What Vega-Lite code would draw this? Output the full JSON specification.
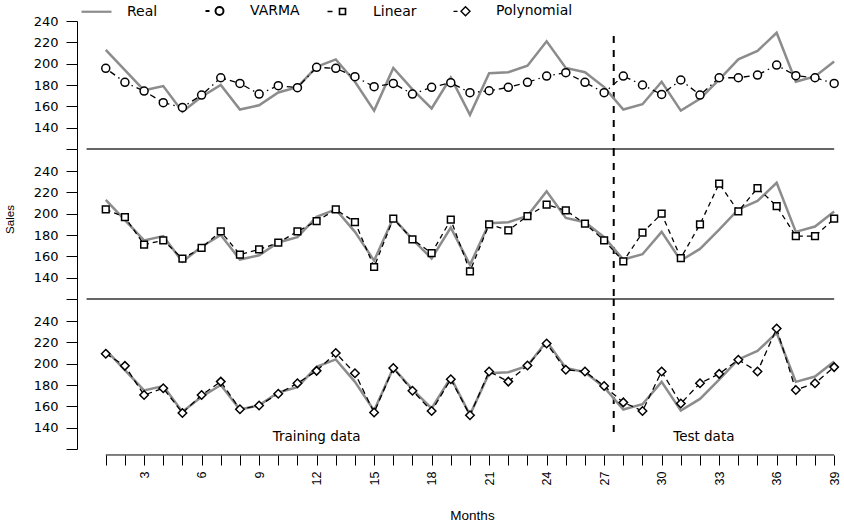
{
  "$schema": "https://vega.github.io/schema/vega-lite/v6.json",
  "padding": {"left": 4, "top": 0, "right": 0, "bottom": 2},
  "bounds": "flush",
  "spacing": 0,
  "config": {
    "view": {"stroke": null},
    "font": "Liberation Sans",
    "axis": {"grid": false, "domainColor": "black", "tickColor": "black", "labelColor": "black", "titleColor": "black", "domainWidth": 1, "tickWidth": 1, "labelOverlap": false, "labelBound": false, "labelFlush": false}
  },
  "datasets": {
    "sales": [
      {"month": 1, "real": 213, "varma": 195.6, "linear": 204, "poly": 209.4},
      {"month": 2, "real": 194, "varma": 182.5, "linear": 196.8, "poly": 198},
      {"month": 3, "real": 175, "varma": 174.3, "linear": 171, "poly": 170.6},
      {"month": 4, "real": 179, "varma": 163.4, "linear": 175, "poly": 177},
      {"month": 5, "real": 155, "varma": 159, "linear": 157.8, "poly": 153.8},
      {"month": 6, "real": 169, "varma": 170.6, "linear": 168, "poly": 170.6},
      {"month": 7, "real": 180, "varma": 186.8, "linear": 183.4, "poly": 183.2},
      {"month": 8, "real": 157, "varma": 181.5, "linear": 161.6, "poly": 157.3},
      {"month": 9, "real": 161, "varma": 171.5, "linear": 166.5, "poly": 160.8},
      {"month": 10, "real": 173, "varma": 179.4, "linear": 172.8, "poly": 171.8},
      {"month": 11, "real": 178, "varma": 177.5, "linear": 183.4, "poly": 181.7},
      {"month": 12, "real": 197, "varma": 196.6, "linear": 193, "poly": 193.3},
      {"month": 13, "real": 204, "varma": 195.6, "linear": 204, "poly": 210},
      {"month": 14, "real": 183, "varma": 187.8, "linear": 192.2, "poly": 191.1},
      {"month": 15, "real": 156, "varma": 178.4, "linear": 150, "poly": 154.2},
      {"month": 16, "real": 196, "varma": 181.5, "linear": 195.3, "poly": 195.9},
      {"month": 17, "real": 176, "varma": 171.5, "linear": 176, "poly": 174.7},
      {"month": 18, "real": 158, "varma": 177.8, "linear": 163, "poly": 155.7},
      {"month": 19, "real": 187, "varma": 182.2, "linear": 194.4, "poly": 185.4},
      {"month": 20, "real": 152, "varma": 172.8, "linear": 146, "poly": 151.6},
      {"month": 21, "real": 191, "varma": 174.6, "linear": 190, "poly": 192.7},
      {"month": 22, "real": 192, "varma": 177.8, "linear": 184.4, "poly": 183.2},
      {"month": 23, "real": 198, "varma": 182.5, "linear": 197.8, "poly": 198.3},
      {"month": 24, "real": 221, "varma": 188.4, "linear": 208.5, "poly": 218.9},
      {"month": 25, "real": 196, "varma": 191.5, "linear": 203.1, "poly": 194.3},
      {"month": 26, "real": 192, "varma": 182.5, "linear": 190.7, "poly": 192.7},
      {"month": 27, "real": 178, "varma": 172.8, "linear": 175, "poly": 179.1},
      {"month": 28, "real": 157, "varma": 188.4, "linear": 155.3, "poly": 163.7},
      {"month": 29, "real": 162, "varma": 180, "linear": 182.2, "poly": 155.7},
      {"month": 30, "real": 183, "varma": 171.2, "linear": 200, "poly": 192.7},
      {"month": 31, "real": 156, "varma": 184.7, "linear": 158.4, "poly": 162.7},
      {"month": 32, "real": 167, "varma": 170.6, "linear": 190, "poly": 181.7},
      {"month": 33, "real": 185, "varma": 186.8, "linear": 228.2, "poly": 190.5},
      {"month": 34, "real": 204, "varma": 186.8, "linear": 202.2, "poly": 203.7},
      {"month": 35, "real": 212, "varma": 189.3, "linear": 224, "poly": 192.7},
      {"month": 36, "real": 229, "varma": 198.7, "linear": 207.2, "poly": 233},
      {"month": 37, "real": 183, "varma": 188.7, "linear": 179, "poly": 175.3},
      {"month": 38, "real": 188, "varma": 186.8, "linear": 179, "poly": 181.7},
      {"month": 39, "real": 202, "varma": 181.5, "linear": 195.3, "poly": 196.8}
    ]
  },
  "vconcat": [
    {
      "width": 761,
      "height": 128,
      "data": {"name": "sales"},
      "layer": [
        {
          "data": {"values": [{}]},
          "mark": {"type": "rule", "color": "#333333", "strokeWidth": 1.5},
          "encoding": {
            "x": {"datum": 0, "type": "quantitative", "scale": {"domain": [-0.5, 39.2], "nice": false, "zero": false}, "axis": null},
            "x2": {"datum": 39},
            "y": {"datum": 120, "type": "quantitative", "scale": {"domain": [120, 240], "nice": false, "zero": false},
                  "axis": {"title": null, "values": [120, 140, 160, 180, 200, 220, 240], "tickCount": 100, "format": "d", "labelExpr": "datum.value == 120 ? '' : datum.label", "labelOverlap": false, "tickSize": 11, "labelPadding": 8, "labelFont": "DejaVu Sans", "labelFontSize": 13}}
          }
        },
        {
          "data": {"values": [{}]},
          "mark": {"type": "rule", "color": "black", "strokeWidth": 2, "strokeDash": [7, 7]},
          "encoding": {
            "x": {"datum": 27.5, "type": "quantitative", "scale": {"domain": [-0.5, 39.2], "nice": false, "zero": false}, "axis": null},
            "y": {"datum": 226, "type": "quantitative", "scale": {"domain": [120, 240], "nice": false, "zero": false}},
            "y2": {"datum": 120}
          }
        },
        {
          "mark": {"type": "line", "color": "#8c8c8c", "strokeWidth": 2.5},
          "encoding": {
            "x": {"field": "month", "type": "quantitative", "scale": {"domain": [-0.5, 39.2], "nice": false, "zero": false}, "axis": null},
            "y": {"field": "real", "type": "quantitative", "scale": {"domain": [120, 240], "nice": false, "zero": false}}
          }
        },
        {
          "mark": {"type": "line", "color": "black", "strokeWidth": 1.3, "strokeDash": [1.5, 4, 6, 4]},
          "encoding": {
            "x": {"field": "month", "type": "quantitative", "scale": {"domain": [-0.5, 39.2], "nice": false, "zero": false}, "axis": null},
            "y": {"field": "varma", "type": "quantitative", "scale": {"domain": [120, 240], "nice": false, "zero": false}}
          }
        },
        {
          "mark": {"type": "point", "shape": "circle", "size": 64, "filled": true, "fill": "white", "stroke": "black", "strokeWidth": 1.5, "opacity": 1},
          "encoding": {
            "x": {"field": "month", "type": "quantitative", "scale": {"domain": [-0.5, 39.2], "nice": false, "zero": false}, "axis": null},
            "y": {"field": "varma", "type": "quantitative", "scale": {"domain": [120, 240], "nice": false, "zero": false}}
          }
        },
        {
          "data": {"values": []},
          "mark": {"type": "point", "opacity": 1, "filled": false},
          "encoding": {
            "stroke": {
              "field": "series", "type": "nominal",
              "scale": {"domain": ["Real", "VARMA", "Linear", "Polynomial"], "range": ["#8c8c8c", "black", "black", "black"]},
              "legend": {
                "orient": "none", "legendX": 8, "legendY": -21,
                "direction": "horizontal", "columns": 4, "gridAlign": "all", "columnPadding": -3,
                "title": null, "symbolSize": 400, "symbolOpacity": 1,
                "labelFont": "DejaVu Sans", "labelFontSize": 14, "labelColor": "black", "labelOffset": 19, "labelLimit": 300,
                "padding": 0, "rowPadding": 0
              }
            },
            "shape": {
              "field": "series", "type": "nominal",
              "scale": {"domain": ["Real", "VARMA", "Linear", "Polynomial"], "range": [
                "M-1.5,0H1.5",
                "M-1.4,0H-1.0M0.4,0C0.4,0.221,0.221,0.4,0,0.4C-0.221,0.4,-0.4,0.221,-0.4,0C-0.4,-0.221,-0.221,-0.4,0,-0.4C0.221,-0.4,0.4,-0.221,0.4,0Z",
                "M-1.5,0H-1.0M-0.3,-0.3H0.3V0.3H-0.3Z",
                "M-1.2,0H-0.8M-0.45,0L0,-0.45L0.45,0L0,0.45Z"
              ]},
              "legend": {
                "orient": "none", "legendX": 8, "legendY": -21,
                "direction": "horizontal", "columns": 4, "gridAlign": "all", "columnPadding": -3,
                "title": null, "symbolSize": 400, "symbolOpacity": 1,
                "labelFont": "DejaVu Sans", "labelFontSize": 14, "labelColor": "black", "labelOffset": 19, "labelLimit": 300,
                "padding": 0, "rowPadding": 0
              }
            },
            "strokeWidth": {
              "field": "series", "type": "ordinal",
              "scale": {"domain": ["Real", "VARMA", "Linear", "Polynomial"], "range": [2.2, 1.4, 1.4, 1.4]},
              "legend": {
                "orient": "none", "legendX": 8, "legendY": -21,
                "direction": "horizontal", "columns": 4, "gridAlign": "all", "columnPadding": -3,
                "title": null, "symbolSize": 400, "symbolOpacity": 1,
                "labelFont": "DejaVu Sans", "labelFontSize": 14, "labelColor": "black", "labelOffset": 19, "labelLimit": 300,
                "padding": 0, "rowPadding": 0
              }
            }
          }
        }
      ]
    },
    {
      "width": 761,
      "height": 150,
      "data": {"name": "sales"},
      "layer": [
        {
          "data": {"values": [{}]},
          "mark": {"type": "rule", "color": "#333333", "strokeWidth": 1.5},
          "encoding": {
            "x": {"datum": 0, "type": "quantitative", "scale": {"domain": [-0.5, 39.2], "nice": false, "zero": false}, "axis": null},
            "x2": {"datum": 39},
            "y": {"datum": 120, "type": "quantitative", "scale": {"domain": [120, 260.7], "nice": false, "zero": false},
                  "axis": {"title": "Sales", "titleFont": "Liberation Sans", "titleFontSize": 11.5, "titleFontWeight": "normal", "titleX": -62, "titleY": 70, "titleBaseline": "bottom", "titleAngle": 270, "values": [120, 140, 160, 180, 200, 220, 240], "tickCount": 100, "format": "d", "labelExpr": "datum.value == 120 ? '' : datum.label", "labelOverlap": false, "tickSize": 11, "labelPadding": 8, "labelFont": "DejaVu Sans", "labelFontSize": 13}}
          }
        },
        {
          "data": {"values": [{}]},
          "mark": {"type": "rule", "color": "black", "strokeWidth": 2, "strokeDash": [7, 7]},
          "encoding": {
            "x": {"datum": 27.5, "type": "quantitative", "scale": {"domain": [-0.5, 39.2], "nice": false, "zero": false}, "axis": null},
            "y": {"datum": 260.7, "type": "quantitative", "scale": {"domain": [120, 260.7], "nice": false, "zero": false}},
            "y2": {"datum": 120}
          }
        },
        {
          "mark": {"type": "line", "color": "#8c8c8c", "strokeWidth": 2.5},
          "encoding": {
            "x": {"field": "month", "type": "quantitative", "scale": {"domain": [-0.5, 39.2], "nice": false, "zero": false}, "axis": null},
            "y": {"field": "real", "type": "quantitative", "scale": {"domain": [120, 260.7], "nice": false, "zero": false}}
          }
        },
        {
          "mark": {"type": "line", "color": "black", "strokeWidth": 1.3, "strokeDash": [5, 4]},
          "encoding": {
            "x": {"field": "month", "type": "quantitative", "scale": {"domain": [-0.5, 39.2], "nice": false, "zero": false}, "axis": null},
            "y": {"field": "linear", "type": "quantitative", "scale": {"domain": [120, 260.7], "nice": false, "zero": false}}
          }
        },
        {
          "mark": {"type": "point", "shape": "square", "size": 45, "filled": true, "fill": "white", "stroke": "black", "strokeWidth": 1.5, "opacity": 1},
          "encoding": {
            "x": {"field": "month", "type": "quantitative", "scale": {"domain": [-0.5, 39.2], "nice": false, "zero": false}, "axis": null},
            "y": {"field": "linear", "type": "quantitative", "scale": {"domain": [120, 260.7], "nice": false, "zero": false}}
          }
        }
      ]
    },
    {
      "width": 761,
      "height": 150,
      "data": {"name": "sales"},
      "layer": [
        {
          "data": {"values": [{}]},
          "mark": {"type": "rule", "color": "black", "strokeWidth": 1},
          "encoding": {
            "x": {"datum": 1, "type": "quantitative", "scale": {"domain": [-0.5, 39.2], "nice": false, "zero": false},
                  "axis": {"title": "Months", "titleFont": "Liberation Sans", "titleFontSize": 13.5, "titleFontWeight": "normal", "titleX": 395, "titleY": 53, "titleBaseline": "top", "values": [1, 2, 3, 4, 5, 6, 7, 8, 9, 10, 11, 12, 13, 14, 15, 16, 17, 18, 19, 20, 21, 22, 23, 24, 25, 26, 27, 28, 29, 30, 31, 32, 33, 34, 35, 36, 37, 38, 39], "tickCount": 100, "format": "d", "labelExpr": "datum.value % 3 == 0 ? datum.label : ''", "labelOverlap": false, "domain": false, "offset": 6, "tickSize": 10, "labelAngle": 270, "labelPadding": 6, "labelFont": "Liberation Sans", "labelFontSize": 12.5}},
            "x2": {"datum": 39},
            "y": {"datum": 114.4, "type": "quantitative", "scale": {"domain": [120, 260.7], "nice": false, "zero": false},
                  "axis": {"title": null, "values": [120, 140, 160, 180, 200, 220, 240], "tickCount": 100, "format": "d", "labelExpr": "datum.value == 120 ? '' : datum.label", "labelOverlap": false, "tickSize": 11, "labelPadding": 8, "labelFont": "DejaVu Sans", "labelFontSize": 13}}
          }
        },
        {
          "data": {"values": [{}]},
          "mark": {"type": "rule", "color": "black", "strokeWidth": 2, "strokeDash": [7, 7]},
          "encoding": {
            "x": {"datum": 27.5, "type": "quantitative", "scale": {"domain": [-0.5, 39.2], "nice": false, "zero": false}},
            "y": {"datum": 260.7, "type": "quantitative", "scale": {"domain": [120, 260.7], "nice": false, "zero": false}},
            "y2": {"datum": 130.5}
          }
        },
        {
          "data": {"values": [{"label": "Training data", "month": 12, "value": 130.8}, {"label": "Test data", "month": 32.2, "value": 130.8}]},
          "mark": {"type": "text", "font": "DejaVu Sans", "fontSize": 13.5, "color": "black", "align": "center", "baseline": "middle"},
          "encoding": {
            "x": {"field": "month", "type": "quantitative", "scale": {"domain": [-0.5, 39.2], "nice": false, "zero": false}},
            "y": {"field": "value", "type": "quantitative", "scale": {"domain": [120, 260.7], "nice": false, "zero": false}},
            "text": {"field": "label"}
          }
        },
        {
          "mark": {"type": "line", "color": "#8c8c8c", "strokeWidth": 2.5},
          "encoding": {
            "x": {"field": "month", "type": "quantitative", "scale": {"domain": [-0.5, 39.2], "nice": false, "zero": false}},
            "y": {"field": "real", "type": "quantitative", "scale": {"domain": [120, 260.7], "nice": false, "zero": false}}
          }
        },
        {
          "mark": {"type": "line", "color": "black", "strokeWidth": 1.3, "strokeDash": [6, 4]},
          "encoding": {
            "x": {"field": "month", "type": "quantitative", "scale": {"domain": [-0.5, 39.2], "nice": false, "zero": false}},
            "y": {"field": "poly", "type": "quantitative", "scale": {"domain": [120, 260.7], "nice": false, "zero": false}}
          }
        },
        {
          "mark": {"type": "point", "shape": "diamond", "size": 72, "filled": true, "fill": "white", "stroke": "black", "strokeWidth": 1.5, "opacity": 1},
          "encoding": {
            "x": {"field": "month", "type": "quantitative", "scale": {"domain": [-0.5, 39.2], "nice": false, "zero": false}},
            "y": {"field": "poly", "type": "quantitative", "scale": {"domain": [120, 260.7], "nice": false, "zero": false}}
          }
        }
      ]
    }
  ]
}
